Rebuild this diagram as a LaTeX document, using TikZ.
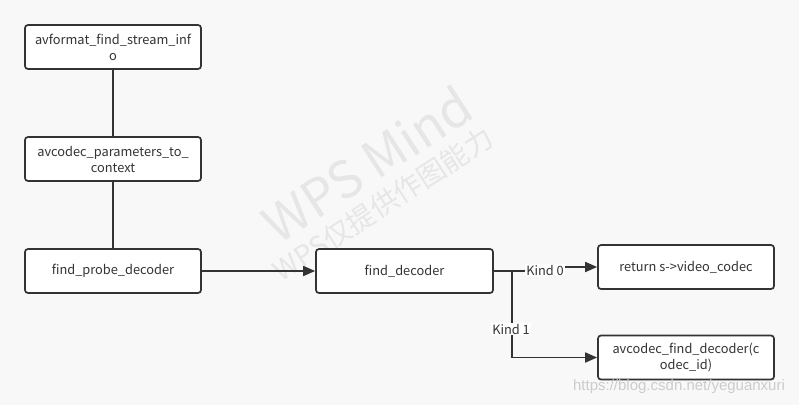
\documentclass[tikz,border=0pt]{standalone}
\usepackage{fontspec}
\setmainfont{Noto Sans CJK SC}
\newfontfamily\urlfont{Liberation Sans}
\usetikzlibrary{arrows.meta}
\definecolor{bg}{HTML}{F8F8F8}
\definecolor{ink}{HTML}{333333}
\definecolor{wm}{HTML}{E6E6E6}
\tikzset{
  box/.style={draw=ink, line width=1.7pt, fill=white, rounded corners=3pt,
    minimum width=176pt, minimum height=44pt, inner sep=0pt, align=center,
    text=ink, font=\fontsize{12.8}{16}\selectfont},
  link/.style={draw=ink, line width=1.7pt},
  arr/.style={link, -{Triangle[length=12pt,width=10pt]}},
  lbl/.style={fill=white, inner sep=1pt, text=ink, font=\fontsize{12.8}{15}\selectfont}
}
\begin{document}
\begin{tikzpicture}[x=1pt,y=-1pt]
\fill[bg] (0,0) rectangle (799,405);
\useasboundingbox (0,0) rectangle (799,405);
% watermarks
\node[text=wm, rotate=33, font=\fontsize{51}{51}\selectfont] (wm1) at (367,164) {WPS Mind};
\node[text=wm, rotate=33, font=\fontsize{28}{28}\selectfont] (wm2) at (383,204) {WPS仅提供作图能力};
% nodes
\node[box] (a) at (113,47) {avformat\_find\_stream\_inf\\o};
\node[box] (b) at (113,159) {avcodec\_parameters\_to\_\\context};
\node[box] (c) at (113,271) {find\_probe\_decoder};
\node[box, minimum width=177pt] (d) at (404.5,271) {find\_decoder};
\node[box] (e) at (686,267) {return s->video\_codec};
\node[box] (f) at (686,357.5) {avcodec\_find\_decoder(c\\odec\_id)};
% connectors
\draw[link] (a) -- (b);
\draw[link] (b) -- (c);
\draw[arr] (c) -- (d);
\coordinate (j) at (512,271);
\draw[arr] (d.east) -- (j) -- (555,271) -- (555,267) -- (e.west);
\draw[arr] (j) |- (f.west);
\node[lbl] (k0) at (545,270) {Kind 0};
\node[lbl] (k1) at (511,329) {Kind 1};
\node[text=black!20, font=\urlfont\fontsize{15}{15}\selectfont] (url) at (679,387) {https://blog.csdn.net/yeguanxuri};
\end{tikzpicture}
\end{document}
